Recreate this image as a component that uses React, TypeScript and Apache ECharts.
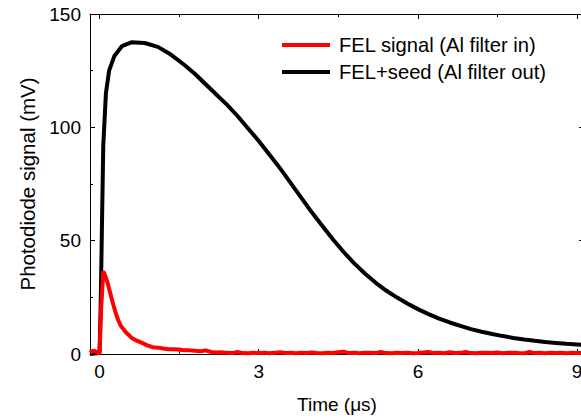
import React, { useEffect, useRef } from "react";
import * as echarts from "echarts";

const timeRange = [-0.18, 9.13];
const signalRange = [0, 150];
const xMajorTicks = [0, 3, 6, 9];
const xMinorTicks = [1.5, 4.5, 7.5];
const seriesNames = ["FEL signal (Al filter in)", "FEL+seed (Al filter out)"];

const redTime = [
  -0.18, -0.14, -0.1, -0.06, -0.02, 0.0, 0.03, 0.07, 0.1, 0.15, 0.2, 0.25, 0.3, 0.35, 0.4, 0.5, 0.6, 0.7,
  0.8, 0.9, 1.0, 1.1, 1.2, 1.3, 1.4, 1.5, 1.6, 1.7, 1.8, 1.9, 2.0, 2.1, 2.2, 2.3, 2.4, 2.5, 2.6, 2.7,
  2.8, 2.9, 3.0, 3.1, 3.2, 3.3, 3.4, 3.5, 3.6, 3.7, 3.8, 3.9, 4.0, 4.1, 4.2, 4.3, 4.4, 4.5, 4.6, 4.7,
  4.8, 4.9, 5.0, 5.1, 5.2, 5.3, 5.4, 5.5, 5.6, 5.7, 5.8, 5.9, 6.0, 6.1, 6.2, 6.3, 6.4, 6.5, 6.6, 6.7,
  6.8, 6.9, 7.0, 7.1, 7.2, 7.3, 7.4, 7.5, 7.6, 7.7, 7.8, 7.9, 8.0, 8.1, 8.2, 8.3, 8.4, 8.5, 8.6, 8.7,
  8.8, 8.9, 9.0, 9.13,
];
const redSignal = [
  0.5, 1.2, 1.4, 1.0, 0.3, 0.5, 20, 36.5, 35, 31.5, 27, 22.5, 18.5, 15, 12.5, 9.5, 7.2, 5.9,
  4.9, 3.8, 3.0, 2.8, 2.4, 2.1, 2.1, 2.0, 1.6, 1.6, 1.4, 1.2, 1.6, 0.9, 0.7, 0.8, 0.5, 0.4, 0.9, 0.4,
  0.3, 0.5, 0.4, 0.6, 0.3, 0.5, 0.8, 0.4, 0.5, 0.3, 0.6, 0.4, 0.7, 0.4, 0.3, 0.5, 0.4, 0.8, 1.0, 0.4,
  0.5, 0.3, 0.6, 0.5, 0.4, 0.9, 0.4, 0.3, 0.5, 0.4, 0.6, 0.3, 0.4, 0.7, 0.9, 0.4, 0.6, 0.3, 0.8, 0.4,
  0.5, 0.9, 0.4, 0.3, 0.6, 0.5, 0.4, 0.7, 0.3, 0.5, 0.6, 0.4, 0.3, 0.9, 0.4, 0.5, 0.3, 0.6, 0.4, 0.5,
  0.3, 0.6, 0.4, 0.5,
];

const blackTime = [
  -0.18, -0.05, 0.0, 0.02, 0.07, 0.12, 0.18, 0.28, 0.42, 0.6, 0.85, 1.1, 1.35, 1.6, 1.8, 2.0, 2.2, 2.4,
  2.6, 2.8, 3.0, 3.2, 3.4, 3.6, 3.8, 4.0, 4.2, 4.4, 4.6, 4.8, 5.0, 5.2, 5.4, 5.6, 5.8, 6.0, 6.2, 6.4,
  6.6, 6.8, 7.0, 7.2, 7.4, 7.6, 7.8, 8.0, 8.2, 8.4, 8.6, 8.8, 9.0, 9.13,
];
const blackSignal = [
  0, 0.3, 0.5, 20, 92, 115, 125, 131.5, 135.8, 137.5, 137.2, 135.5, 132, 127.5, 123.5, 119, 114.5, 110,
  105, 99.5, 94, 88, 82, 75.5, 69, 62.5, 56.5, 50.5, 45, 40, 35.5, 31.5, 28, 25, 22.3, 19.8, 17.6, 15.6,
  13.9, 12.4, 11.0, 9.8, 8.8, 7.9, 7.1, 6.4, 5.8, 5.3, 4.9, 4.5, 4.2, 4.0,
];

const FONT = "Liberation Sans, Arial, sans-serif";

export default function App() {
  const ref = useRef<HTMLDivElement>(null);
  useEffect(() => {
    if (!ref.current) return;
    const chart = echarts.init(ref.current, null, { renderer: "svg" });
    const baseX = {
      type: "value" as const,
      min: timeRange[0],
      max: timeRange[1],
      splitLine: { show: false },
    };
    const axisLine = { show: true, onZero: false, lineStyle: { color: "#000", width: 1 } };
    const noLine = { show: false, onZero: false };
    chart.setOption({
      animation: false,
      backgroundColor: "#fff",
      grid: { left: 90, right: 16, top: 14, bottom: 60, containLabel: false },
      legend: {
        orient: "vertical",
        left: 282,
        top: 35,
        padding: 0,
        itemWidth: 48,
        itemHeight: 4,
        itemGap: 7,
        icon: "rect",
        data: seriesNames,
        textStyle: { fontFamily: FONT, fontSize: 20.2, color: "#000", lineHeight: 20, padding: [0, 0, 0, 4] },
      },
      xAxis: [
        {
          ...baseX,
          position: "bottom",
          axisLine,
          axisTick: { show: true, inside: true, length: 5, customValues: xMajorTicks, lineStyle: { color: "#000" } },
          axisLabel: { show: true, customValues: xMajorTicks, fontFamily: FONT, fontSize: 19, color: "#000", margin: 8 },
          name: "Time (μs)",
          nameLocation: "middle",
          nameGap: 41,
          nameTextStyle: { fontFamily: FONT, fontSize: 19, color: "#000" },
        },
        {
          ...baseX,
          position: "bottom",
          axisLine: noLine,
          axisTick: { show: true, inside: true, length: 3, customValues: xMinorTicks, lineStyle: { color: "#000" } },
          axisLabel: { show: false },
        },
        {
          ...baseX,
          position: "top",
          axisLine,
          axisTick: { show: true, inside: true, length: 5, customValues: xMajorTicks, lineStyle: { color: "#000" } },
          axisLabel: { show: false },
        },
        {
          ...baseX,
          position: "top",
          axisLine: noLine,
          axisTick: { show: true, inside: true, length: 3, customValues: xMinorTicks, lineStyle: { color: "#000" } },
          axisLabel: { show: false },
        },
      ],
      yAxis: [
        {
          type: "value",
          position: "left",
          min: signalRange[0],
          max: signalRange[1],
          interval: 50,
          splitLine: { show: false },
          axisLine,
          axisTick: { show: true, inside: true, length: 5, lineStyle: { color: "#000" } },
          minorTick: { show: true, splitNumber: 2, length: 3, lineStyle: { color: "#000" } },
          axisLabel: { fontFamily: FONT, fontSize: 19, color: "#000", margin: 9 },
          name: "Photodiode signal (mV)",
          nameLocation: "middle",
          nameGap: 48,
          nameTextStyle: { fontFamily: FONT, fontSize: 20.5, color: "#000" },
        },
        {
          type: "value",
          position: "right",
          min: signalRange[0],
          max: signalRange[1],
          interval: 50,
          splitLine: { show: false },
          axisLine,
          axisTick: { show: true, inside: true, length: 5, lineStyle: { color: "#000" } },
          minorTick: { show: true, splitNumber: 2, length: 3, lineStyle: { color: "#000" } },
          axisLabel: { show: false },
        },
      ],
      series: [
        {
          name: seriesNames[1],
          type: "line",
          xAxisIndex: 0,
          yAxisIndex: 0,
          symbol: "none",
          smooth: false,
          lineStyle: { color: "#000", width: 4 },
          itemStyle: { color: "#000" },
          data: blackTime.map((t, i) => [t, blackSignal[i]]),
          z: 2,
        },
        {
          name: seriesNames[0],
          type: "line",
          xAxisIndex: 0,
          yAxisIndex: 0,
          symbol: "none",
          smooth: false,
          lineStyle: { color: "#ff0000", width: 4 },
          itemStyle: { color: "#ff0000" },
          data: redTime.map((t, i) => [t, redSignal[i]]),
          z: 3,
        },
      ],
    });
    return () => chart.dispose();
  }, []);
  return (
    <div style={{ position: "fixed", left: 0, top: 0, width: 581, height: 419, overflow: "hidden", background: "#fff" }}>
      <div ref={ref} style={{ width: 600, height: 419 }} />
    </div>
  );
}
